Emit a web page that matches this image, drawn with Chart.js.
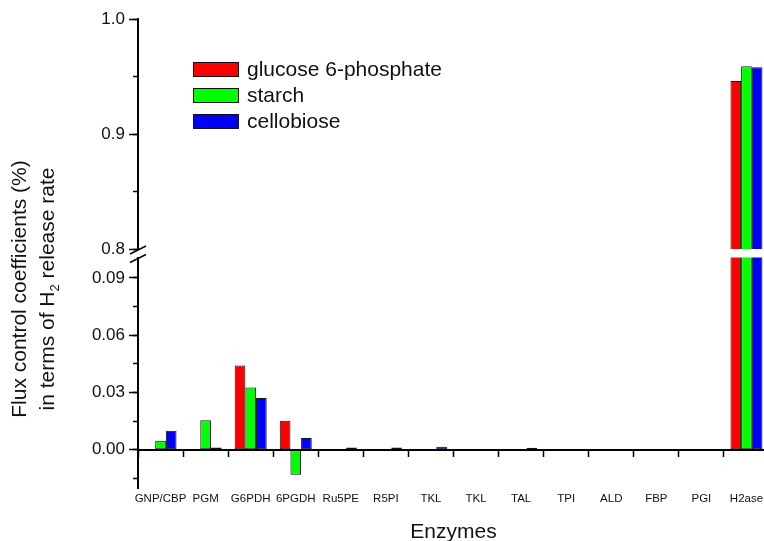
<!DOCTYPE html>
<html lang="en">
<head>
<meta charset="UTF-8">
<title>Flux control coefficients</title>
<script src="https://cdn.jsdelivr.net/npm/chart.js"></script>
<style>
  html, body { margin: 0; padding: 0; background: #fff; overflow: hidden; }
  body { width: 764px; height: 541px; position: relative; font-family: "Liberation Sans", Arial, sans-serif; color: #111; }
  canvas { position: absolute; left: 0; top: 0; }
  #ytitle { position: absolute; left: -117px; top: 261px; width: 300px; height: 56px; line-height: 28px;
            font-size: 21px; text-align: center; white-space: nowrap; transform: rotate(-90deg); }
  #ytitle sub { font-size: 13px; line-height: 0; vertical-align: -5px; }
  #legend { position: absolute; left: 193px; top: 56px; font-size: 21px; }
  .row { height: 26px; display: flex; align-items: center; }
  .box { width: 44px; height: 13px; border: 1px solid #111; margin-right: 8px; }
</style>
</head>
<body>
<canvas id="lower" width="769" height="541"></canvas>
<canvas id="upper" width="769" height="541"></canvas>
<div id="ytitle">Flux control coefficients (%)<br>in terms of H<sub>2</sub> release rate</div>
<div id="legend"></div>

<script>
// categories + values
const enzymes = ['GNP/CBP', 'PGM', 'G6PDH', '6PGDH', 'Ru5PE', 'R5PI', 'TKL', 'TKL', 'TAL', 'TPI', 'ALD', 'FBP', 'PGI', 'H2ase'];
const glucose6p  = [0, 0, 0.0441, 0.0152, 0, 0, 0, 0.0002, 0.0002, 0.0002, 0, 0, 0, 0.946];
const starch     = [0.0047, 0.0155, 0.0326, -0.0131, 0, 0, 0, 0.0002, 0.0002, 0.0002, 0, 0, 0, 0.959];
const cellobiose = [0.0099, 0.0012, 0.0271, 0.0061, 0.0012, 0.0012, 0.0016, 0.0002, 0.0010, -0.0004, 0, 0, 0, 0.958];

// broken y axis: two ranges
const upperRange = [0.8, 1.0];
const lowerRange = [-0.0203, 0.1007];

Chart.defaults.font.family = "'Liberation Sans', Arial, sans-serif";
Chart.defaults.color = '#111';

function makeDatasets() {
    return [
        { label: 'glucose 6-phosphate', data: glucose6p, backgroundColor: '#ff0000' },
        { label: 'starch', data: starch, backgroundColor: '#00ff00' },
        { label: 'cellobiose', data: cellobiose, backgroundColor: '#0000ff' }
    ].map(d => Object.assign(d, {
        borderColor: '#111',
        borderWidth: 1,
        borderSkipped: false,
        categoryPercentage: 0.71,
        barPercentage: 1,
        clip: 0,
        xAxisID: 'x',
        yAxisID: 'y'
    }));
}

// the little // marks where the axis is broken
const breakMarks = {
    id: 'breakMarks',
    afterDraw(chart, args, opts) {
        const { ctx, chartArea } = chart;
        const x = chartArea.left;
        const y = opts.at === 'bottom' ? chartArea.bottom : chartArea.top;
        ctx.save();
        ctx.strokeStyle = '#000';
        ctx.lineWidth = 1.5;
        ctx.beginPath();
        ctx.moveTo(x - 8, y + 5);
        ctx.lineTo(x + 8, y - 3);
        ctx.stroke();
        ctx.restore();
    }
};

function yScales(range, majorStep, minorStep, digits) {
    return {
        y: {
            min: range[0], max: range[1],
            weight: 1,
            border: { color: '#000', width: 2 },
            grid: { drawOnChartArea: false, tickLength: 9, tickWidth: 1.5, color: '#000' },
            ticks: {
                stepSize: majorStep, includeBounds: false, padding: 4,
                font: { size: 17 },
                callback: v => v.toFixed(digits)
            },
            afterFit: s => { s.width = 138; }
        },
        ym: {
            position: 'left',
            min: range[0], max: range[1],
            weight: 0,
            border: { display: false },
            grid: { drawOnChartArea: false, tickLength: 5, tickWidth: 1.5, color: '#000' },
            ticks: { stepSize: minorStep, includeBounds: false, display: false },
            afterFit: s => { s.width = 0; }
        }
    };
}

// lower part: -0.02 .. 0.1, labels at the bottom, axis line on zero
const lowerChart = new Chart(document.getElementById('lower'), {
    type: 'bar',
    data: { labels: enzymes, datasets: makeDatasets() },
    options: {
        responsive: false,
        animation: false,
        layout: { padding: { top: 257.5, bottom: -1, left: 0, right: 0 } },
        plugins: { legend: { display: false }, tooltip: { enabled: false }, breakMarks: { at: 'top' } },
        scales: Object.assign({
            x: {
                position: 'bottom',
                offset: true,
                border: { display: false },
                grid: { display: false, drawTicks: false },
                ticks: { padding: 4.5, autoSkip: false, maxRotation: 0, font: { size: 11.5, lineHeight: 1 } },
                title: { display: true, text: 'Enzymes', font: { size: 21, lineHeight: 1 }, padding: { top: 12.5, bottom: -0.5 } }
            },
            x0: {
                type: 'category',
                axis: 'x',
                position: { y: 0 },
                offset: true,
                border: { color: '#000', width: 2 },
                grid: { drawOnChartArea: false, tickLength: 6, tickWidth: 1.5, color: '#000', offset: true },
                ticks: { display: false }
            }
        }, yScales(lowerRange, 0.03, 0.015, 2))
    },
    plugins: [breakMarks]
});

// upper part: 0.8 .. 1.0, only the H2ase bars reach it
const upperChart = new Chart(document.getElementById('upper'), {
    type: 'bar',
    data: { labels: enzymes, datasets: makeDatasets() },
    options: {
        responsive: false,
        animation: false,
        layout: { padding: { top: 19, bottom: 292, left: 0, right: 0 } },
        plugins: { legend: { display: false }, tooltip: { enabled: false }, breakMarks: { at: 'bottom' } },
        scales: Object.assign({
            x: { display: false, offset: true }
        }, yScales(upperRange, 0.1, 0.05, 1))
    },
    plugins: [breakMarks]
});

// legend built from the datasets
const legendEl = document.getElementById('legend');
lowerChart.data.datasets.forEach(ds => {
    const row = document.createElement('div');
    row.className = 'row';
    const box = document.createElement('span');
    box.className = 'box';
    box.style.background = ds.backgroundColor;
    row.appendChild(box);
    row.appendChild(document.createTextNode(ds.label));
    legendEl.appendChild(row);
});
</script>
</body>
</html>
